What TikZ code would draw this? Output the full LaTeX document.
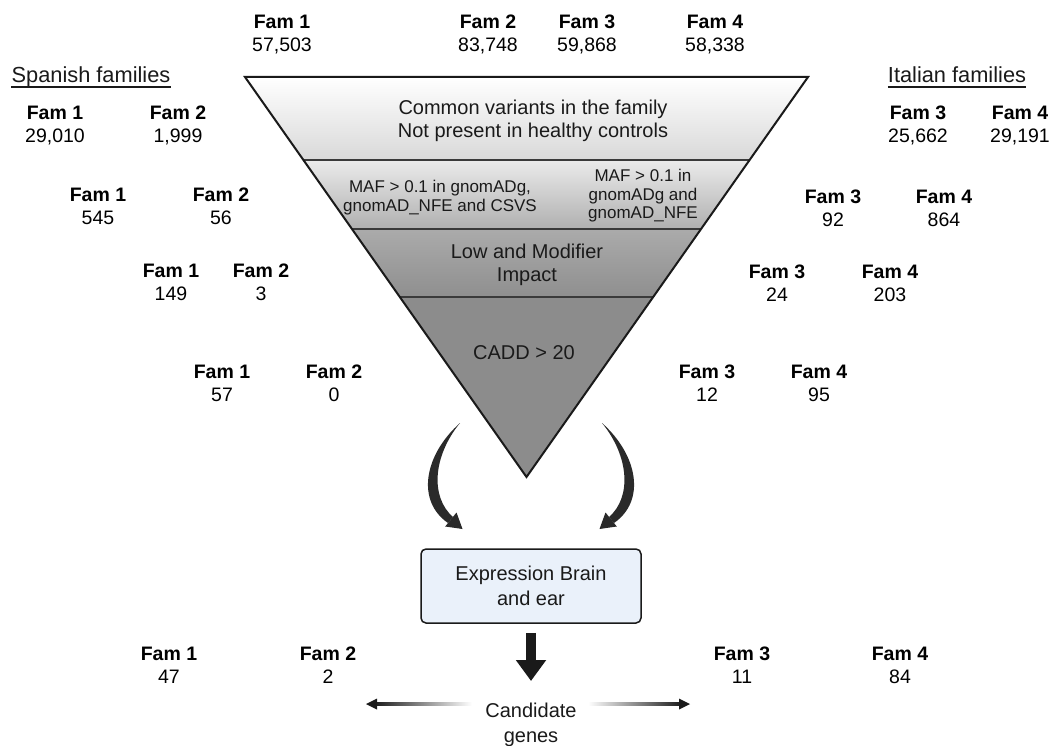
\documentclass[tikz,border=0pt]{standalone}
\usepackage{fontspec}
\setmainfont{Liberation Sans}
\usetikzlibrary{arrows.meta}

\definecolor{ink}{HTML}{1A1A1A}
\definecolor{sepline}{HTML}{3A3A3A}
\definecolor{boxfill}{HTML}{EAF1FA}
\definecolor{swooshcol}{HTML}{2A2A2A}

% one curved, tapering arrow (drawn on the left; mirrored for the right)
\newcommand{\swooshshape}{%
  \fill[swooshcol] (460,423) .. controls (424,455) and (416,501) .. (448,523)
     -- (453,517) .. controls (430,497) and (433,456) .. (460,423) -- cycle;
  \fill[swooshcol] (445.2,526.5) -- (462.5,529) -- (456.5,512.5) -- cycle;}

\begin{document}
\begin{tikzpicture}[x=1pt,y=-1pt,
  fam/.style={font=\fontsize{19.5}{23}\selectfont, align=center, inner sep=0pt, anchor=north, text=black},
  bandtxt/.style={font=\fontsize{20}{22.5}\selectfont, align=center, inner sep=0pt, anchor=north, text=ink},
  maftxt/.style={font=\fontsize{17}{18.5}\selectfont, align=center, inner sep=0pt, anchor=north, text=ink},
  grouptitle/.style={font=\fontsize{21.8}{25}\selectfont, inner sep=0pt, anchor=base, text=ink},
  sep/.style={draw=sepline, line width=1.8pt},
  exprbox/.style={draw=ink, line width=1.5pt, fill=boxfill, rounded corners=5pt,
    minimum width=220pt, minimum height=74pt, align=center, inner sep=0pt,
    font=\fontsize{20}{25}\selectfont, text=ink},
]
\useasboundingbox (0,0) rectangle (1054,746);
\fill[white] (0,0) rectangle (1054,746);

% ---------- filtering funnel ----------
\coordinate (TL) at (245,77);
\coordinate (TR) at (808,77);
\coordinate (AP) at (526.5,477);
\begin{scope}
  \clip (TL) -- (TR) -- (AP) -- cycle;
  \shade[top color=white, middle color=white, bottom color=black!15] (200,77) rectangle (860,160);
  \shade[top color=black!8, bottom color=black!31] (200,160) rectangle (860,229);
  \shade[top color=black!33, bottom color=black!44] (200,229) rectangle (860,297);
  \fill[black!45] (200,297) rectangle (860,480);
  \draw[sep] (200,160) -- (860,160);
  \draw[sep] (200,229) -- (860,229);
  \draw[sep] (200,297) -- (860,297);
\end{scope}
\draw[line width=2pt, draw=ink] (TL) -- (TR) -- (AP) -- cycle;

\node[bandtxt] (common) at (533,100) {Common variants in the family\\Not present in healthy controls};
\node[maftxt] (mafl) at (440,180) {MAF > 0.1 in gnomADg,\\gnomAD\_NFE and CSVS};
\node[maftxt] (mafr) at (643,169) {MAF > 0.1 in\\gnomADg and\\gnomAD\_NFE};
\node[bandtxt] (impact) at (527,244) {Low and Modifier\\Impact};
\node[bandtxt] (cadd) at (524,345) {CADD > 20};

% ---------- totals per family ----------
\node[fam] (top1) at (282,15) {\textbf{Fam 1}\\57,503};
\node[fam] (top2) at (488,15) {\textbf{Fam 2}\\83,748};
\node[fam] (top3) at (587,15) {\textbf{Fam 3}\\59,868};
\node[fam] (top4) at (715,15) {\textbf{Fam 4}\\58,338};

% ---------- Spanish families ----------
\node[grouptitle] (spain) at (91,83) {Spanish families};
\draw[line width=1.2pt, ink] ([yshift=-4pt]spain.base west) -- ([yshift=-4pt]spain.base east);
\node[fam] (sa1) at (55,106)  {\textbf{Fam 1}\\29,010};
\node[fam] (sa2) at (178,106) {\textbf{Fam 2}\\1,999};
\node[fam] (sb1) at (98,188)  {\textbf{Fam 1}\\545};
\node[fam] (sb2) at (221,188) {\textbf{Fam 2}\\56};
\node[fam] (sc1) at (171,264) {\textbf{Fam 1}\\149};
\node[fam] (sc2) at (261,264) {\textbf{Fam 2}\\3};
\node[fam] (sd1) at (222,365) {\textbf{Fam 1}\\57};
\node[fam] (sd2) at (334,365) {\textbf{Fam 2}\\0};
\node[fam] (se1) at (169,647) {\textbf{Fam 1}\\47};
\node[fam] (se2) at (328,647) {\textbf{Fam 2}\\2};

% ---------- Italian families ----------
\node[grouptitle] (italy) at (957,83) {Italian families};
\draw[line width=1.2pt, ink] ([yshift=-4pt]italy.base west) -- ([yshift=-4pt]italy.base east);
\node[fam] (ia3) at (918,106)  {\textbf{Fam 3}\\25,662};
\node[fam] (ia4) at (1020,106) {\textbf{Fam 4}\\29,191};
\node[fam] (ib3) at (833,190)  {\textbf{Fam 3}\\92};
\node[fam] (ib4) at (944,190)  {\textbf{Fam 4}\\864};
\node[fam] (ic3) at (777,265)  {\textbf{Fam 3}\\24};
\node[fam] (ic4) at (890,265)  {\textbf{Fam 4}\\203};
\node[fam] (id3) at (707,365)  {\textbf{Fam 3}\\12};
\node[fam] (id4) at (819,365)  {\textbf{Fam 4}\\95};
\node[fam] (ie3) at (742,647)  {\textbf{Fam 3}\\11};
\node[fam] (ie4) at (900,647)  {\textbf{Fam 4}\\84};

% ---------- curved arrows into the expression filter ----------
\swooshshape
\begin{scope}[shift={(1062,0)}, xscale=-1]
  \swooshshape
\end{scope}

% ---------- expression filter and result ----------
\node[exprbox] (expr) at (531,586) {Expression Brain\\and ear};
\coordinate (dtip) at (531,681);
\draw[line width=10pt, draw=ink, -{Triangle[width=29pt,length=21pt]}]
  ([yshift=-9pt]expr.south) -- (dtip);

\node[bandtxt, font=\fontsize{20}{24.5}\selectfont] (cand) at (531,703) {Candidate\\genes};

\coordinate (lfade) at (472,704);
\coordinate (lend)  at (374,704);
\coordinate (ltip)  at (366,704);
\coordinate (rfade) at (588,704);
\coordinate (rend)  at (682,704);
\coordinate (rtip)  at (690,704);
\shade[left color=ink, right color=white] ([yshift=1.5pt]lend) rectangle ([yshift=-1.5pt]lfade);
\fill[ink] (ltip) -- ([xshift=11pt,yshift=5.5pt]ltip) -- ([xshift=11pt,yshift=-5.5pt]ltip) -- cycle;
\shade[left color=white, right color=ink] ([yshift=1.5pt]rfade) rectangle ([yshift=-1.5pt]rend);
\fill[ink] (rtip) -- ([xshift=-11pt,yshift=5.5pt]rtip) -- ([xshift=-11pt,yshift=-5.5pt]rtip) -- cycle;
\end{tikzpicture}
\end{document}
